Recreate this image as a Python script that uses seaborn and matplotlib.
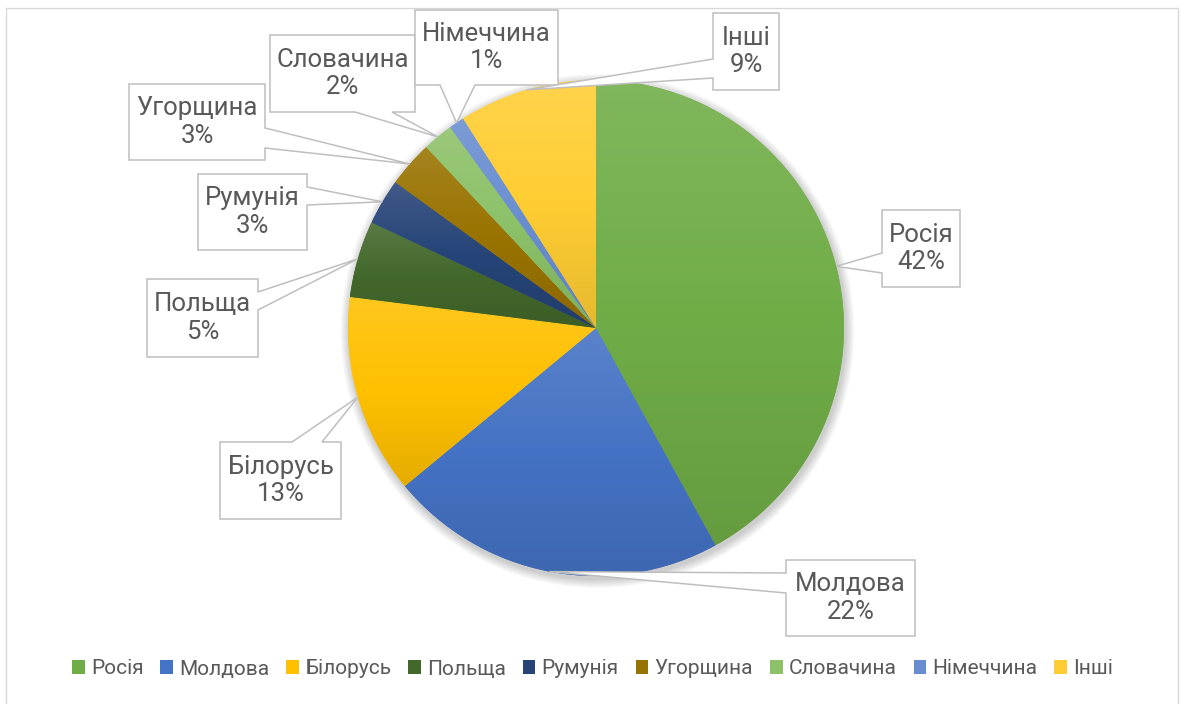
import numpy as np
import matplotlib
matplotlib.use("Agg")
import matplotlib.pyplot as plt
import seaborn as sns
from matplotlib.patches import Rectangle, Polygon, Patch, Circle
from matplotlib.colors import to_rgb

# ---------------- data ----------------
countries = ["Росія", "Молдова", "Білорусь", "Польща", "Румунія",
             "Угорщина", "Словачина", "Німеччина", "Інші"]
shares = [42, 22, 13, 5, 3, 3, 2, 1, 9]
colors = ["#70AD47", "#4472C4", "#FFC000", "#43682B", "#264478",
          "#997300", "#8CC168", "#698ED0", "#FFCD33"]

# ---------------- layout (pixel coords, y from top) ----------------
W, H = 1185, 704
CX, CY, R = 596, 328, 248
# label box: (x0, y0, x1, y1), pointer side, pointer base positions
label_boxes = [
    ((882, 210, 960, 287), "left", (253, 273)),
    ((786, 560, 915, 636), "left", (573, 593)),
    ((220, 442, 341, 519), "top", (292, 322)),
    ((147, 279, 258, 357), "right", (292, 310)),
    ((198, 174, 307, 250), "right", (187, 205)),
    ((129, 84, 265, 160), "right", (128, 148)),
    ((270, 35, 415, 112), "bottom", (355, 392)),
    ((415, 10, 558, 85), "bottom", (440, 475)),
    ((713, 13, 779, 90), "left", (59, 78)),
]

sns.set_theme(style="white")
plt.rcParams['font.family'] = ['Roboto', 'DejaVu Sans']
TXT = "#595959"
EDGE = "#BFBFBF"

fig = plt.figure(figsize=(W / 100, H / 100), dpi=100)
ax = fig.add_axes([0, 0, 1, 1])


def Y(y):
    return H - y


# soft shadow
for i in range(10):
    ax.add_patch(Circle((CX + 1.5, Y(CY) - 3), R + 1 + i * 0.9, color="black",
                        alpha=0.018, lw=0, zorder=0.5))

wedges, _ = ax.pie(shares, colors=colors, startangle=90, counterclock=False,
                   center=(CX, Y(CY)), radius=R,
                   wedgeprops=dict(linewidth=0), frame=True)


def shade(c, f):
    return tuple(np.clip(np.array(to_rgb(c)) * f, 0, 1))


def tint(c, t):
    a = np.array(to_rgb(c))
    return tuple(a + (1 - a) * t)


for w, c in zip(wedges, colors):
    w.set_zorder(1)
    bb = w.get_path().get_extents()
    n = 200
    t = np.linspace(0, 1, n)[:, None]  # 0 bottom -> 1 top
    bot = np.array(shade(c, 0.9))
    mid = np.array(to_rgb(c))
    top = np.array(tint(c, 0.12))
    grad = np.where(t < 0.5, bot + (mid - bot) * (t / 0.5),
                    mid + (top - mid) * ((t - 0.5) / 0.5))
    img = grad[:, None, :]
    im = ax.imshow(img, extent=[bb.x0, bb.x1, bb.y0, bb.y1], origin="lower",
                   aspect="auto", zorder=1.5, interpolation="bilinear")
    im.set_clip_path(w)

# labels with callouts
cum = np.cumsum([0] + shares)
total = float(sum(shares))
for i, (name, v) in enumerate(zip(countries, shares)):
    mid_cw = 360.0 * (cum[i] + cum[i + 1]) / 2 / total
    ang = np.deg2rad(90 - mid_cw)
    tip = (CX + R * np.cos(ang), Y(CY) + R * np.sin(ang))
    (x0, y0, x1, y1), side, (a, b) = label_boxes[i]
    TL, TR, BR, BL = (x0, Y(y0)), (x1, Y(y0)), (x1, Y(y1)), (x0, Y(y1))
    if side == "top":
        verts = [TL, (a, Y(y0)), tip, (b, Y(y0)), TR, BR, BL]
    elif side == "right":
        verts = [TL, TR, (x1, Y(a)), tip, (x1, Y(b)), BR, BL]
    elif side == "bottom":
        verts = [TL, TR, BR, (b, Y(y1)), tip, (a, Y(y1)), BL]
    else:
        verts = [TL, TR, BR, BL, (x0, Y(b)), tip, (x0, Y(a))]
    ax.add_patch(Polygon(verts, closed=True, fc="white", ec=EDGE, lw=1.1,
                         zorder=5, joinstyle="miter"))
    ax.text((x0 + x1) / 2, Y((y0 + y1) / 2), f"{name}\n{v}%", ha="center",
            va="center", fontsize=18.5, color=TXT, zorder=6, linespacing=1.2)

# outer border
ax.add_patch(Rectangle((6, -10), 1172, Y(8) + 10, fc="none", ec="#D9D9D9",
                       lw=1, zorder=0.2))

ax.set_aspect("equal")
ax.set_xlim(0, W)
ax.set_ylim(0, H)
ax.axis("off")

handles = [Patch(facecolor=c, edgecolor="none") for c in colors]
fig.legend(handles, countries, loc="center", bbox_to_anchor=(0.5, 1 - 669 / H),
           ncol=len(countries), frameon=False, fontsize=15,
           handlelength=0.62, handleheight=0.62, handletextpad=0.3,
           columnspacing=0.8, labelcolor=TXT)

fig.savefig("out.png", dpi=100, facecolor="white")
